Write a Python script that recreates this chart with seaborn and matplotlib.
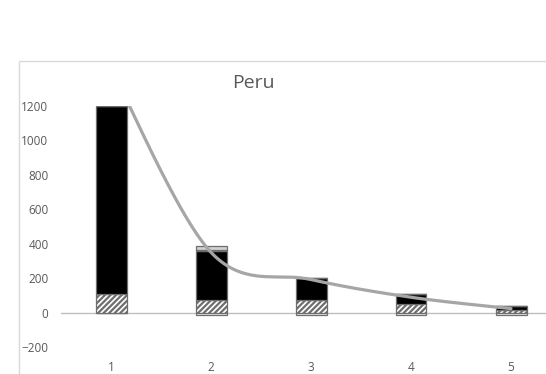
import numpy as np
import matplotlib
matplotlib.use("Agg")
import matplotlib.pyplot as plt
from matplotlib.patches import Rectangle
import seaborn as sns

categories = ["1", "2", "3", "4", "5"]
hatched = [110, 75, 75, 48, 17]
solid = [1090, 280, 127, 57, 20]
dark_band = [0, 10, 0, 0, 0]
light_band = [0, 20, 0, 0, 0]
negative = [0, -17, -15, -12, -12]
trend = [1420, 350, 192, 89, 23]

sns.set_style("white")
plt.rcParams["font.family"] = ["Open Sans", "DejaVu Sans"]
plt.rcParams["hatch.linewidth"] = 1.6
plt.rcParams["hatch.color"] = "black"

fig = plt.figure(figsize=(5.46, 3.74), dpi=100)
ax = fig.add_axes([61 / 546, 27 / 374, 500 / 546, 241 / 374])

edge = "#6e6e6e"
w = 0.31
sns.barplot(x=categories, y=negative, color="white", edgecolor=edge, linewidth=0.9, width=w, ax=ax)
sns.barplot(x=categories, y=hatched, color="white", edgecolor=edge, linewidth=0.9, width=w,
            hatch="//////", ax=ax)
b = np.array(hatched)
sns.barplot(x=categories, y=solid, bottom=b, color="black", edgecolor=edge, linewidth=0.9,
            width=w, ax=ax)
b = b + np.array(solid)
sns.barplot(x=categories, y=dark_band, bottom=b, color="#595959", edgecolor=edge, linewidth=0.9,
            width=w, ax=ax)
b = b + np.array(dark_band)
sns.barplot(x=categories, y=light_band, bottom=b, color="#d0d0d0", edgecolor=edge, linewidth=0.9,
            width=w, ax=ax)

# smoothed trend line (Excel-style bezier through the category points)
pts = np.array([[i, v] for i, v in enumerate(trend)], dtype=float)
n = len(pts)
xs, ys = [], []
t = np.linspace(0, 1, 40)
for i in range(n - 1):
    p0 = pts[max(i - 1, 0)]
    p1 = pts[i]
    p2 = pts[i + 1]
    p3 = pts[min(i + 2, n - 1)]
    c1 = p1 + (p2 - p0) / 6
    c2 = p2 - (p3 - p1) / 6
    seg = ((1 - t) ** 3)[:, None] * p1 + (3 * (1 - t) ** 2 * t)[:, None] * c1 \
        + (3 * (1 - t) * t ** 2)[:, None] * c2 + (t ** 3)[:, None] * p2
    xs.extend(seg[:, 0])
    ys.extend(seg[:, 1])
sns.lineplot(x=xs, y=ys, sort=False, estimator=None, color="#a6a6a6", linewidth=2.3, ax=ax)

ax.set_xlim(-0.5, 4.5)
ax.set_ylim(-200, 1200)
ax.set_yticks(range(-200, 1201, 200))
ax.axhline(0, color="#bfbfbf", linewidth=1.0, zorder=0.5)
sns.despine(ax=ax, left=True, bottom=True)
ax.tick_params(axis="y", length=0, pad=9, labelsize=8.5, labelcolor="#595959")
ax.tick_params(axis="x", length=0, pad=10, labelsize=8.5, labelcolor="#595959")
ax.set_xlabel("")
ax.set_ylabel("")

fig.text(253 / 546, 1 - 83 / 374, "Peru", ha="center", va="center", fontsize=14,
         color="#595959")
fig.patches.append(Rectangle((19 / 546, -0.1), 1.2, 1.1 - 61 / 374, transform=fig.transFigure,
                             fill=False, edgecolor="#d9d9d9", linewidth=1.0))

fig.savefig("out.png", dpi=100)
